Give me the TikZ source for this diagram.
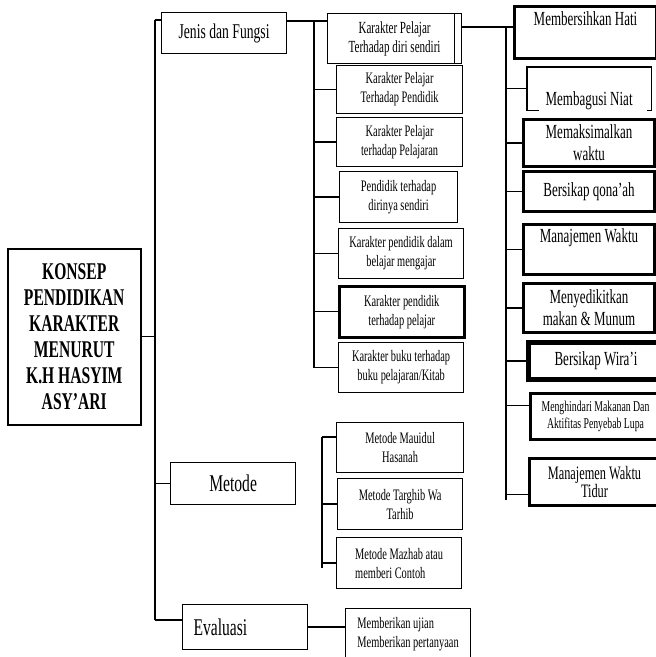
\documentclass[tikz,border=0pt]{standalone}
\usepackage{fontspec}
\setmainfont{Liberation Serif}[FakeStretch=0.65]
\newcommand\sz[2]{\fontsize{#1}{#2}\selectfont}
\begin{document}
\begin{tikzpicture}[x=1pt,y=-1pt,
  box/.style={draw, line width=1.2pt, inner sep=0pt, align=center, anchor=north west},
  thick box/.style={box, line width=3pt},
  conn/.style={line width=1.3pt},
  small/.style={font=\sz{16}{19}},
  right/.style={font=\sz{20}{22}}]
\useasboundingbox (0,0) rectangle (656,657);

% level 0 and 1
\node[box, line width=1.5pt, minimum width=133pt, minimum height=176pt, font=\sz{24}{26}\bfseries] (main) at (7,248)
  {KONSEP\\PENDIDIKAN\\KARAKTER\\MENURUT\\K.H HASYIM\\ASY’ARI};
\node[box, minimum width=125pt, minimum height=41pt, font=\sz{21}{24}] (jenis) at (161,12) {Jenis dan Fungsi};
\node[box, minimum width=125pt, minimum height=42pt, font=\sz{24}{26}] (metode) at (170,462) {Metode};
\node[box, align=left, inner xsep=11pt, text width=103pt, minimum width=125pt, minimum height=45pt, font=\sz{24}{26}] (eval) at (182,604) {Evaluasi};

% column 2
\node[box, minimum width=134pt, minimum height=50pt, font=\sz{17}{19}] (k1) at (327,13) {Karakter Pelajar\\Terhadap diri sendiri};
\draw[line width=1.2pt] (k1.north east) ++(-8,0) -- ++(0,50);
\node[box, small, minimum width=126pt, minimum height=48pt] (k2) at (336,65) {Karakter Pelajar\\Terhadap Pendidik};
\node[box, small, minimum width=126pt, minimum height=49pt] (k3) at (336,117) {Karakter Pelajar\\terhadap Pelajaran};
\node[box, small, minimum width=118pt, minimum height=51pt] (k4) at (339,171) {Pendidik terhadap\\dirinya sendiri};
\node[box, small, minimum width=125pt, minimum height=50pt] (k5) at (338,228) {Karakter pendidik dalam\\belajar mengajar};
\node[box, small, line width=2.5pt, minimum width=125pt, minimum height=51pt] (k6) at (338,285) {Karakter pendidik\\terhadap pelajar};
\node[box, small, minimum width=125pt, minimum height=50pt] (k7) at (338,342) {Karakter buku terhadap\\buku pelajaran/Kitab};

\node[box, small, minimum width=127pt, minimum height=50pt] (m1) at (336,422) {Metode Mauidul\\Hasanah};
\node[box, small, minimum width=125pt, minimum height=51pt] (m2) at (337,478) {Metode Targhib Wa\\Tarhib};
\node[box, small, align=left, minimum width=125pt, minimum height=51pt, xshift=0pt] (m3) at (336,537) {Metode Mazhab atau\\memberi Contoh};
\node[box, small, align=left, minimum width=125pt, minimum height=52pt] (ev2) at (345,608) {Memberikan ujian\\Memberikan pertanyaan};

% right column
\node[thick box, right, minimum width=142pt, minimum height=52pt] (r1) at (513,5) {Membersihkan Hati\\\strut};
\node[box, draw=none, right, minimum width=123pt, minimum height=42pt] (r2) at (527,67) {\strut\\Membagusi Niat};
\draw[line width=1.2pt] (r2.south west) ++(12,0) -- (r2.south west) -- (r2.north west) -- (r2.north east) -- (r2.south east) -- ++(-4,0);
\node[thick box, right, minimum width=131pt, minimum height=47pt] (r3) at (522,118) {Memaksimalkan\\waktu};
\node[thick box, right, minimum width=131pt, minimum height=40pt] (r4) at (522,170) {Bersikap qona’ah};
\node[thick box, right, minimum width=131pt, minimum height=50pt] (r5) at (522,223) {Manajemen Waktu\\\strut};
\node[thick box, right, minimum width=131pt, minimum height=49pt] (r6) at (522,282) {Menyedikitkan\\makan \& Munum};
\node[thick box, right, line width=5pt, minimum width=135pt, minimum height=37pt] (r7) at (526,340) {Bersikap Wira’i};
\node[thick box, minimum width=130pt, minimum height=46pt, font=\sz{15}{16.5}] (r8) at (529,392) {Menghindari Makanan Dan\\Aktifitas Penyebab Lupa};
\node[thick box, minimum width=130pt, minimum height=47pt, font=\sz{19}{18}] (r9) at (528,457) {Manajemen Waktu\\Tidur};

% main trunk
\coordinate (ta) at (155,20);
\coordinate (tb) at (155,620);
\draw[conn] (ta) -- (tb);
\draw[conn] (main.east) -- (main.east -| ta);
\draw[conn] (ta) -- (ta -| jenis.west);
\draw[conn] (metode.west -| ta) -- (metode.west);
\draw[conn] (tb) -- (tb -| eval.west);

% column 2 trunk
\coordinate (ca) at (314,21);
\draw[conn] (jenis.east |- ca) -- (k1.west |- ca);
\draw[conn] (ca) -- (ca |- k7.west);
\foreach \k in {k2,k3,k4,k5,k6,k7} \draw[conn] (ca |- \k.west) -- (\k.west);

% metode trunk
\coordinate (ma) at (322,437);
\coordinate (mb) at (322,568);
\draw[conn] (ma) -- (mb);
\draw[conn] (ma) -- (ma -| m1.west);
\draw[conn] (ma |- m2.west) -- (m2.west);
\draw[conn] (ma |- m3.west) -- (m3.west);

% evaluasi
\draw[conn] (eval.east) -- (ev2.west |- eval.east);

% right trunk
\coordinate (ra) at (506,27);
\coordinate (rb) at (506,500);
\draw[conn] (k1.east |- ra) -- (r1.west |- ra);
\draw[conn] (ra) -- (rb);
\foreach \r in {r2,r3,r4,r5,r6,r7} \draw[conn] (ra |- \r.west) -- (\r.west);
\draw[conn] (ra |- r8.west) ++(0,-11) -- ([yshift=11pt]r8.west);
\draw[conn] (ra |- r9.west) ++(0,12.5) -- ([yshift=-12.5pt]r9.west);
\end{tikzpicture}
\end{document}
